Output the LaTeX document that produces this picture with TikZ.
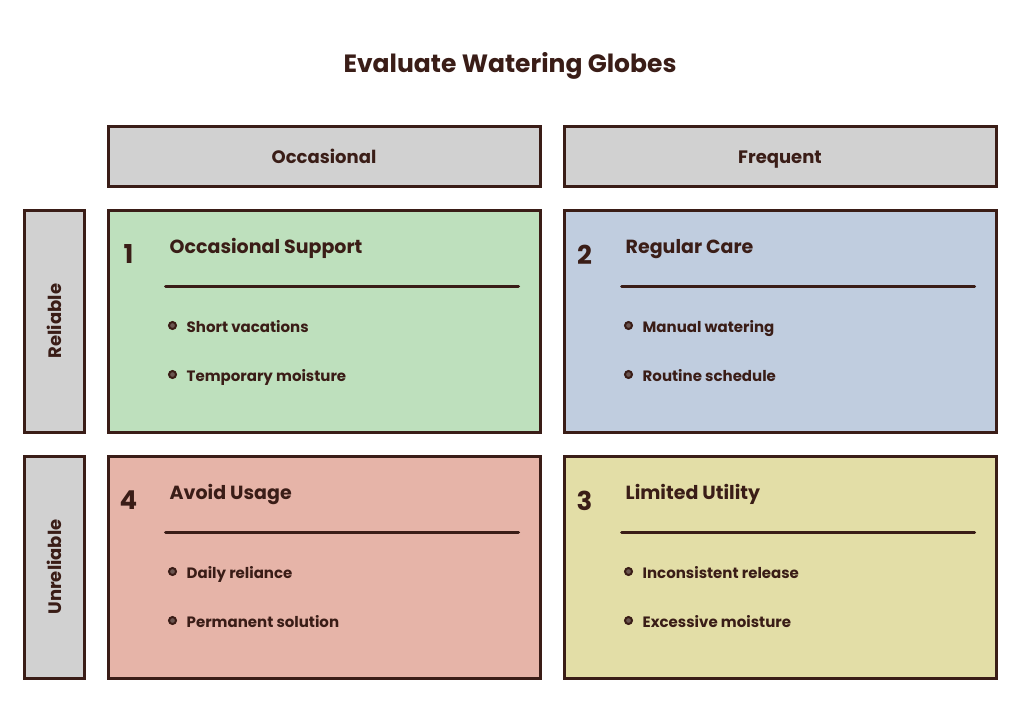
\documentclass[tikz,border=0pt]{standalone}
\usepackage{fontspec}
\setmainfont{Poppins}
\usetikzlibrary{positioning, calc}
\definecolor{ink}{HTML}{3A1D17}
\definecolor{hdrgray}{HTML}{D1D1D1}
\definecolor{qgreen}{HTML}{BEE0BD}
\definecolor{qblue}{HTML}{C0CDDF}
\definecolor{qred}{HTML}{E6B4A8}
\definecolor{qyellow}{HTML}{E3DEA7}
\tikzset{
  cell/.style  ={draw=ink, line width=3pt, inner sep=0pt,
                 minimum width=432pt, minimum height=222pt},
  hdr/.style   ={draw=ink, line width=3pt, fill=hdrgray, inner sep=0pt,
                 minimum width=432pt, minimum height=60pt, text=ink,
                 text height=1.6em, text depth=0.12em,
                 font=\bfseries\fontsize{18}{20}\selectfont},
  side/.style  ={hdr, rotate=90, minimum width=222pt, minimum height=60pt},
  num/.style   ={text=ink, inner sep=0pt, font=\bfseries\fontsize{26}{28}\selectfont},
  ttl/.style   ={text=ink, inner sep=0pt, anchor=west,
                 text height=1.55em, text depth=0.12em,
                 font=\bfseries\fontsize{19}{22}\selectfont},
  item/.style  ={text=ink, inner sep=0pt, anchor=west,
                 text height=1.5em, text depth=0.12em,
                 font=\bfseries\fontsize{15}{18}\selectfont},
  dot/.style   ={circle, draw=ink, fill=ink!75, line width=2pt,
                 inner sep=0pt, minimum size=7pt},
  rule/.style  ={draw=ink, line width=3pt, line cap=round},
}
% one quadrant: name, centre, fill, number, title, first item, second item
\newcommand{\quadcell}[7]{%
  \node[cell, fill=#3] (#1) at (#2) {};
  \node[num] (#1-num) at ($(#1.north west)+(22,46)$) {#4};
  \node[ttl] (#1-ttl) at ($(#1.north west)+(63,38)$) {#5};
  \coordinate (#1-ra) at ($(#1.north west)+(59,78)$);
  \coordinate (#1-rb) at ($(#1.north east)+(-23,78)$);
  \draw[rule] (#1-ra) -- (#1-rb);
  \node[dot] (#1-d1) at ($(#1.north west)+(66,117)$) {};
  \node[item] (#1-i1) at ($(#1.north west)+(80,117)$) {#6};
  \node[dot] (#1-d2) at ($(#1.north west)+(66,166)$) {};
  \node[item] (#1-i2) at ($(#1.north west)+(80,166)$) {#7};
}

\begin{document}
\begin{tikzpicture}[x=1pt, y=-1pt]
  \useasboundingbox[fill=white] (0,0) rectangle (1020,726);

  \node[text=ink, font=\bfseries\fontsize{25}{28}\selectfont] (title) at (510,66) {Evaluate Watering Globes};

  % axis headers
  \node[hdr]  (occ) at (324,156) {Occasional};
  \node[hdr]  (frq) at (780,156) {Frequent};
  \node[side] (rel) at (54,321)  {Reliable};
  \node[side] (unr) at (54,567)  {Unreliable};

  % quadrants
  \quadcell{q1}{324,321}{qgreen}{1}{Occasional Support}{Short vacations}{Temporary moisture}
  \quadcell{q2}{780,321}{qblue}{2}{Regular Care}{Manual watering}{Routine schedule}
  \quadcell{q4}{324,567}{qred}{4}{Avoid Usage}{Daily reliance}{Permanent solution}
  \quadcell{q3}{780,567}{qyellow}{3}{Limited Utility}{Inconsistent release}{Excessive moisture}
\end{tikzpicture}
\end{document}
